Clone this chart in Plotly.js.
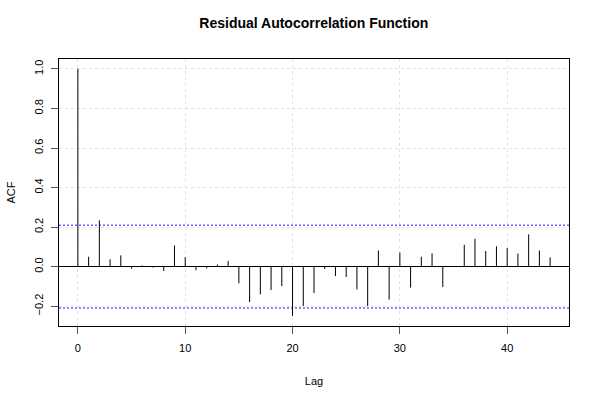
<!DOCTYPE html>
<html>
<head>
<meta charset="utf-8">
<script src="https://cdn.plot.ly/plotly-3.0.1.min.js"></script>
<style>html,body{margin:0;padding:0;background:#fff}</style>
</head>
<body>
<div id="chart" style="width:600px;height:400px"></div>
<script>
const lags = [0,1,2,3,4,5,6,7,8,9,10,11,12,13,14,15,16,17,18,19,20,21,22,23,24,25,26,27,28,29,30,31,32,33,34,35,36,37,38,39,40,41,42,43,44];
const acf = [1.0,0.05,0.234,0.037,0.057,-0.01,0.006,-0.005,-0.022,0.107,0.048,-0.018,-0.008,0.011,0.028,
  -0.084,-0.179,-0.14,-0.118,-0.098,-0.249,-0.199,-0.133,-0.012,-0.047,-0.052,-0.115,-0.199,0.082,-0.167,
  0.071,-0.106,0.05,0.067,-0.103,0.003,0.111,0.141,0.079,0.103,0.094,0.066,0.163,0.082,0.047];
const ciBound = 0.209;
const xTicks = [0,10,20,30,40];
const yTicks = [-0.2,0.0,0.2,0.4,0.6,0.8,1.0];
const yTickLabels = ["\u22120.2","0.0","0.2","0.4","0.6","0.8","1.0"];

const bx = [], by = [];
lags.forEach((l,i)=>{ bx.push(l,l,null); by.push(0,acf[i],null); });

const xr = [-1.76, 45.76];
const ciStyle = {color:'#6464ff', width:1.5, dash:'2px,2px'};
const traces = [
  {x: xr, y:[ciBound,ciBound], mode:'lines', line:ciStyle, showlegend:false},
  {x: xr, y:[-ciBound,-ciBound], mode:'lines', line:ciStyle, showlegend:false},
  {x: bx, y: by, mode:'lines', line:{color:'#000', width:1}, hoverinfo:'skip', showlegend:false}
];

const font = "Liberation Sans, Arial, Helvetica, sans-serif";
const layout = {
  width:600, height:400,
  margin:{l:59, r:31, t:59, b:74},
  paper_bgcolor:'#fff', plot_bgcolor:'#fff',
  font:{family:font, size:11, color:'#000'},
  title:{text:'<b>Residual Autocorrelation Function</b>', x:0.523, xanchor:'center', y:0.942, yanchor:'middle', font:{family:font, size:14, color:'#000'}},
  xaxis:{range:xr, tickvals:xTicks, ticktext:xTicks.map(String), ticks:'outside', ticklen:7, tickcolor:'#555', tickwidth:1, ticklabelstandoff:5,
    showline:true, linecolor:'#000', linewidth:1, mirror:true, showgrid:true, gridcolor:'#e2e2e2', griddash:'dot', gridwidth:1,
    zeroline:false, title:{text:'Lag', font:{family:font, size:11}, standoff:24}, tickfont:{size:11}},
  yaxis:{range:[-0.3,1.05], tickvals:yTicks, ticktext:yTickLabels, tickangle:-90, ticks:'outside', ticklen:7, tickcolor:'#555', tickwidth:1, ticklabelstandoff:4,
    showline:true, linecolor:'#000', linewidth:1, mirror:true, showgrid:true, gridcolor:'#e2e2e2', griddash:'dot', gridwidth:1,
    zeroline:true, zerolinecolor:'#000', zerolinewidth:1,
    title:{text:'ACF', font:{family:font, size:11}, standoff:14}, tickfont:{size:11}}
};
Plotly.newPlot('chart', traces, layout, {displayModeBar:false, staticPlot:true});
</script>
</body>
</html>
